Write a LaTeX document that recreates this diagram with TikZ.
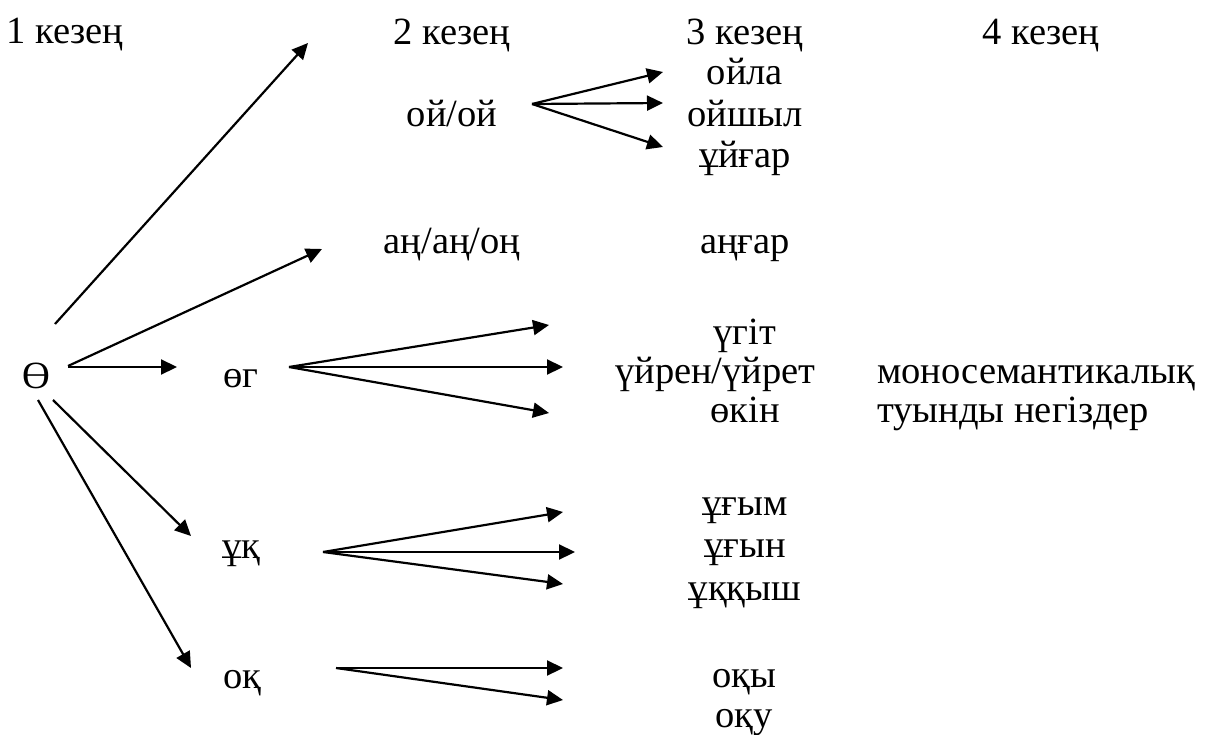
\documentclass[tikz,border=0pt]{standalone}
\usepackage{fontspec}
\setmainfont{LiberationSerif}[Extension=.ttf, UprightFont=*-Regular, BoldFont=*-Bold, ItalicFont=*-Italic]
\usetikzlibrary{arrows.meta}
\begin{document}
\begin{tikzpicture}[x=1pt,y=-1pt,
  lbl/.style={inner sep=0pt, anchor=base, font=\rmfamily\fontsize{38.5}{42}\selectfont},
  arr/.style={line width=2.2pt, -{Triangle[length=16pt,width=15pt]}}]
\useasboundingbox (0,0) rectangle (1209,735);

% stage headings
\node[lbl] (k1) at (65,44) {1 кезең};
\node[lbl] (k2) at (452,45) {2 кезең};
\node[lbl] (k3) at (745,45) {3 кезең};
\node[lbl] (k4) at (1041,45) {4 кезең};

% stage 1 and stage 2 roots
\node[lbl] (th) at (36,388) {Ө};
\node[lbl] (oo) at (452,127) {ой/ой};
\node[lbl] (an) at (452,254) {аң/аң/оң};
\node[lbl] (og) at (241,387) {өг};
\node[lbl] (uk) at (241,558) {ұқ};
\node[lbl] (ok) at (242,688) {оқ};

% stage 3 derivatives
\node[lbl] (o1) at (745,85) {ойла};
\node[lbl] (o2) at (745,127) {ойшыл};
\node[lbl] (o3) at (745,168) {ұйғар};
\node[lbl] (ang) at (745,254) {аңғар};
\node[lbl] (u1) at (745,344) {үгіт};
\node[lbl, anchor=base west] (u2) at (615,383) {үйрен/үйрет};
\node[lbl] (u3) at (745,422) {өкін};
\node[lbl] (y1) at (745,515) {ұғым};
\node[lbl] (y2) at (745,557) {ұғын};
\node[lbl] (y3) at (745,600) {ұққыш};
\node[lbl] (q1) at (744,687) {оқы};
\node[lbl] (q2) at (744,727) {оқу};

% stage 4
\node[lbl, anchor=base west] (m1) at (877,383) {моносемантикалық};
\node[lbl, anchor=base west] (m2) at (877,422) {туынды негіздер};

% arrow end points
\coordinate (r1) at (55,324);  \coordinate (r1t) at (308,43);
\coordinate (r2) at (68,366);  \coordinate (r2t) at (322,249);
\coordinate (r3) at (68,367);  \coordinate (r3t) at (177,367);
\coordinate (r4) at (53,400);  \coordinate (r4t) at (191,536);
\coordinate (r5) at (38,400);  \coordinate (r5t) at (191,668);

\coordinate (hoo) at (532,104);
\coordinate (hoo1) at (663,72); \coordinate (hoo2) at (663,103); \coordinate (hoo3) at (663,147);
\coordinate (hog) at (289,367);
\coordinate (hog1) at (549,325); \coordinate (hog2) at (563,367); \coordinate (hog3) at (549,413);
\coordinate (huk) at (323,552);
\coordinate (huk1) at (563,512); \coordinate (huk2) at (575,552); \coordinate (huk3) at (563,584);
\coordinate (hok) at (336,668);
\coordinate (hok1) at (563,668); \coordinate (hok2) at (563,700);

% arrows from the root
\foreach \a in {r1,r2,r3,r4,r5} \draw[arr] (\a) -- (\a t);

% fans towards stage 3
\foreach \h/\n in {hoo/3,hog/3,huk/3,hok/2}
  \foreach \i in {1,...,\n} \draw[arr] (\h) -- (\h\i);
\end{tikzpicture}
\end{document}
